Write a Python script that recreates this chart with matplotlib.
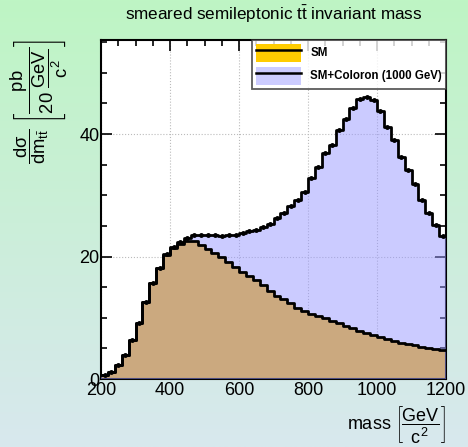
import numpy as np
import matplotlib
matplotlib.use('Agg')
import matplotlib.pyplot as plt
from matplotlib.patches import Patch
from matplotlib.lines import Line2D

plt.rcParams['font.family'] = ['Liberation Sans', 'DejaVu Sans']
plt.rcParams['mathtext.fontset'] = 'custom'
plt.rcParams['mathtext.rm'] = 'Liberation Sans'
plt.rcParams['mathtext.it'] = 'Liberation Sans'
plt.rcParams['mathtext.bf'] = 'Liberation Sans:bold'

# bin edges (20 GeV bins)
bin_edges = list(range(200, 1220, 20))

# SM ttbar
sm = [0.7, 1.2, 2.3, 3.9, 6.3, 9.1, 12.6, 15.7, 18.1, 20.3,
      21.4, 22.1, 22.6, 22.5, 21.9, 21.2, 20.6, 19.9, 19.1, 18.3,
      17.5, 16.8, 16.1, 15.4, 14.3, 13.6, 13.0, 12.4, 11.6, 11.1,
      10.7, 10.3, 9.9, 9.5, 9.1, 8.7, 8.3, 7.9, 7.5, 7.2,
      6.9, 6.5, 6.2, 5.9, 5.7, 5.5, 5.3, 5.1, 4.9, 4.7]

# SM + coloron (1000 GeV)
sm_coloron = [0.7, 1.2, 2.3, 3.9, 6.3, 9.1, 12.6, 15.7, 18.1, 20.4,
              21.6, 22.4, 23.0, 23.5, 23.5, 23.6, 23.5, 23.4, 23.5, 23.6,
              23.8, 24.1, 24.4, 24.9, 25.4, 26.3, 27.1, 28.2, 29.2, 30.6,
              32.8, 34.7, 36.9, 38.2, 40.7, 42.4, 44.2, 45.7, 46.0, 45.6,
              43.7, 41.1, 39.1, 36.3, 34.2, 31.9, 29.2, 27.1, 25.2, 23.3]


def step_xy(edges, vals):
    x = np.repeat(edges, 2)[1:-1]
    y = np.repeat(vals, 2)
    return x, y


fig = plt.figure(figsize=(4.68, 4.47), dpi=100)

# background gradient
bg = fig.add_axes([0, 0, 1, 1], zorder=-10)
top = np.array([190, 245, 196]) / 255.0
bot = np.array([216, 232, 238]) / 255.0
t = np.linspace(0, 1, 256)[:, None]
grad = (top[None, :] * (1 - t) + bot[None, :] * t)[:, None, :]
bg.imshow(grad, aspect='auto', extent=[0, 1, 0, 1])
bg.axis('off')

ax = fig.add_axes([0.216, 0.152, 0.737, 0.759])
ax.set_facecolor('white')

edges = np.array(bin_edges, dtype=float)
xs, ys = step_xy(edges, np.array(sm))
xc, yc = step_xy(edges, np.array(sm_coloron))

ax.fill_between(xs, 0, ys, color='#ffbb00', lw=0, zorder=2)
ax.fill_between(xc, 0, yc, color='#9999ff', alpha=0.5, lw=0, zorder=3)
ax.plot(xs, ys, color='black', lw=2, zorder=4)
ax.plot(xc, yc, color='black', lw=2, zorder=5)

centers = (edges[:-1] + edges[1:]) / 2
ax.plot(centers, sm_coloron, 'o', color='black', ms=2.5, zorder=6)

ax.set_xlim(200, 1200)
ax.set_ylim(0, 55.4)
ax.set_xticks([200, 400, 600, 800, 1000, 1200])
ax.set_xticks(np.arange(200, 1201, 50), minor=True)
ax.set_yticks([0, 20, 40])
ax.set_yticks(np.arange(0, 56, 5), minor=True)
ax.tick_params(which='both', direction='in', top=True, right=True,
               labelsize=13, width=1.2, colors='black')
ax.tick_params(which='major', length=8)
ax.tick_params(which='minor', length=4)
ax.tick_params(axis='x', pad=2)
ax.tick_params(axis='y', pad=1)
for s in ax.spines.values():
    s.set_linewidth(1.5)

ax.grid(True, which='major', linestyle=':', color='#bbbbbb', lw=0.8, zorder=1)
ax.set_axisbelow(True)

# legend
handles = [
    (Patch(facecolor='#ffcc00', edgecolor='none'), Line2D([], [], color='black', lw=1.8)),
    (Patch(facecolor='#ccccff', edgecolor='none'), Line2D([], [], color='black', lw=1.8)),
]
leg = ax.legend(handles, ['SM', 'SM+Coloron (1000 GeV)'], loc='upper right',
                bbox_to_anchor=(1.0, 1.0), frameon=True, fancybox=False,
                shadow=False, borderaxespad=0, handlelength=3.9, handleheight=2.0,
                prop={'weight': 'bold', 'size': 8.3}, labelspacing=0.45,
                borderpad=0.35, handletextpad=0.8)
leg.get_frame().set_edgecolor('#333333')
leg.get_frame().set_linewidth(1.3)
leg.set_zorder(10)

fig.text(0.584, 0.967, r'smeared semileptonic $\mathregular{t\bar{t}}$ invariant mass',
         ha='center', va='center', fontsize=12.3)

fig.text(0.083, 0.912,
         r'$\dfrac{d\sigma}{dm_{t\bar{t}}}\ \left[\dfrac{pb}{20\ \dfrac{GeV}{c^{2}}}\right]$',
         rotation=90, ha='center', va='top', fontsize=13.2)

fig.text(0.953, 0.05, r'mass $\left[\dfrac{GeV}{c^{2}}\right]$',
         ha='right', va='center', fontsize=13)

fig.savefig('out.png', dpi=100)
